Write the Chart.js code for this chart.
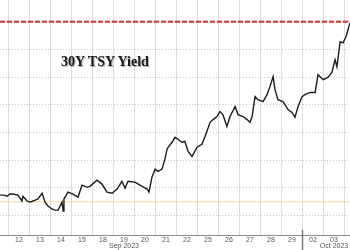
<!DOCTYPE html>
<html>
<head>
<meta charset="utf-8">
<style>
  html, body { margin: 0; padding: 0; background: #fff; }
  #wrap { position: relative; width: 350px; height: 250px; }
  #titulo {
    position: absolute; left: 61px; top: 54px;
    font: bold 14px "Liberation Serif", "DejaVu Serif", serif;
    color: #1b1b1b; white-space: nowrap;
    text-shadow: 1px 1px 1px rgba(0, 0, 0, 0.35);
  }
</style>
<script src="https://cdn.jsdelivr.net/npm/chart.js@4.4.0/dist/chart.umd.min.js"></script>
</head>
<body>
<div id="wrap">
  <canvas id="grafico" width="350" height="250"></canvas>
  <div id="titulo">30Y TSY Yield</div>
</div>
<script>
// trading days shown on the axis (index 0 = Sep 12 open)
const dayLabels = ["12", "13", "14", "15", "18", "19", "20", "21", "22", "25", "26", "27", "28", "29", "02", "03"];
const monthLabels = ["Sep 2023", "Oct 2023"];
const monthLabelDays = [5, 15];
const monthBreaks = [14];

// intraday 30Y yield, time in trading days
const times = [
  -0.40, -0.21, -0.07, 0.07, 0.21, 0.45, 0.64, 0.69, 0.88, 1.02, 1.17, 1.40, 1.60, 1.74, 1.88,
  2.07, 2.21, 2.36, 2.55, 2.60, 2.64, 2.83, 3.07, 3.31, 3.50, 3.74, 3.88, 4.21, 4.45, 4.69,
  4.93, 5.17, 5.40, 5.55, 5.69, 6.02, 6.36, 6.60, 6.69, 6.83, 6.98, 7.12, 7.31, 7.45, 7.55,
  7.60, 7.79, 7.93, 8.07, 8.26, 8.40, 8.55, 8.74, 8.98, 9.21, 9.36, 9.60, 9.74, 9.93, 10.07,
  10.21, 10.40, 10.55, 10.79, 10.93, 11.17, 11.36, 11.50, 11.60, 11.74, 11.88, 12.12, 12.31, 12.45, 12.60,
  12.69, 12.83, 13.07, 13.31, 13.50, 13.64, 13.79, 13.98, 14.12, 14.36, 14.60, 14.74, 14.98, 15.21, 15.40,
  15.55, 15.64, 15.79, 15.93, 16.07, 16.26
];
const yields = [
  4.374, 4.374, 4.370, 4.378, 4.378, 4.374, 4.353, 4.370, 4.353, 4.349, 4.353, 4.360, 4.381, 4.349, 4.335,
  4.324, 4.320, 4.320, 4.349, 4.317, 4.360, 4.385, 4.378, 4.367, 4.410, 4.403, 4.406, 4.428, 4.414, 4.385,
  4.381, 4.396, 4.424, 4.399, 4.424, 4.421, 4.406, 4.396, 4.385, 4.439, 4.468, 4.460, 4.468, 4.504, 4.540,
  4.547, 4.565, 4.583, 4.576, 4.565, 4.568, 4.532, 4.514, 4.547, 4.558, 4.586, 4.637, 4.647, 4.658, 4.676,
  4.665, 4.622, 4.658, 4.694, 4.665, 4.658, 4.647, 4.637, 4.658, 4.730, 4.719, 4.712, 4.737, 4.766, 4.802,
  4.755, 4.719, 4.712, 4.683, 4.673, 4.655, 4.694, 4.730, 4.737, 4.745, 4.745, 4.809, 4.791, 4.799, 4.817,
  4.863, 4.838, 4.928, 4.924, 4.946, 4.996
];

const redLevel = 5.00;
const yellowLevel = 4.35;
const yTicks = [4.3, 4.4, 4.5, 4.6, 4.7, 4.8, 4.9, 5.0];

const X_MIN = -0.405, X_MAX = 16.262;
const Y_MIN = 4.2266, Y_MAX = 5.079;

const nivel = (v) => [{ x: X_MIN, y: v }, { x: X_MAX, y: v }];

const separadorMes = {
  id: "separadorMes",
  afterDraw(chart) {
    const ctx = chart.ctx;
    const xs = chart.scales.x;
    ctx.save();
    ctx.strokeStyle = "#7a7a7a";
    ctx.lineWidth = 1.5;
    monthBreaks.forEach((d) => {
      const x = Math.round(xs.getPixelForValue(d)) + 0.5;
      ctx.beginPath();
      ctx.moveTo(x, xs.top - 6);
      ctx.lineTo(x, chart.height);
      ctx.stroke();
    });
    ctx.restore();
  },
};

new Chart(document.getElementById("grafico"), {
  type: "line",
  data: {
    datasets: [
      {
        data: times.map((t, i) => ({ x: t, y: yields[i] })),
        borderColor: "#1c1c1c", borderWidth: 1.4, pointRadius: 0, tension: 0, order: 0,
      },
      {
        data: nivel(redLevel),
        borderColor: "rgba(214,62,62,0.9)", borderWidth: 2.5, borderDash: [5, 2], pointRadius: 0, order: 1,
      },
      {
        data: nivel(yellowLevel),
        borderColor: "#eadc9c", borderWidth: 1, pointRadius: 0, order: 2,
      },
    ],
  },
  options: {
    responsive: false,
    animation: false,
    layout: { padding: 0 },
    plugins: { legend: { display: false }, tooltip: { enabled: false } },
    scales: {
      x: {
        type: "linear", min: X_MIN, max: X_MAX,
        afterBuildTicks: (axis) => {
          const t = [];
          for (let i = 0; i <= dayLabels.length; i++) {
            t.push({ value: i });
            if (i < dayLabels.length) t.push({ value: i + 0.5 });
          }
          axis.ticks = t;
        },
        grid: {
          drawTicks: false,
          color: (c) => (c.tick && Number.isInteger(c.tick.value) ? "#dcdcdc" : "rgba(0,0,0,0)"),
          lineWidth: 1,
        },
        border: { color: "#8a8a8a", width: 1 },
        ticks: {
          autoSkip: false, maxRotation: 0, padding: 1,
          color: "#555", font: { family: "Liberation Sans", size: 7, lineHeight: 0.86 },
          callback: (v) => {
            if (Number.isInteger(v)) return "";
            const d = Math.floor(v);
            const m = monthLabelDays.indexOf(d);
            return m >= 0 ? [dayLabels[d], monthLabels[m]] : dayLabels[d];
          },
        },
      },
      y: {
        min: Y_MIN, max: Y_MAX,
        afterBuildTicks: (axis) => { axis.ticks = yTicks.map((v) => ({ value: v })); },
        grid: { drawTicks: false, color: "#c8c8c8", lineWidth: 1, tickBorderDash: [1, 2] },
        border: { display: false, dash: [1, 2] },
        ticks: { display: false },
      },
    },
  },
  plugins: [separadorMes],
});
</script>
</body>
</html>
